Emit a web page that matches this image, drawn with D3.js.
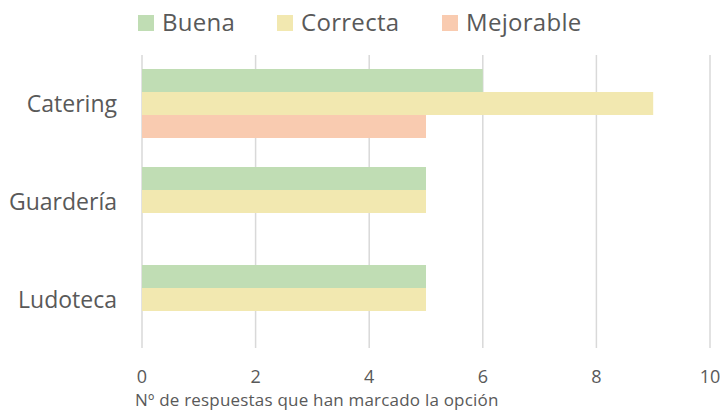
<!DOCTYPE html>
<html><head><meta charset="utf-8">
<script src="https://cdn.jsdelivr.net/npm/d3@7"></script>
<style>body{margin:0;background:#fff}svg{display:block}text{font-family:"Open Sans",sans-serif;fill:#595959}</style>
</head><body><svg id="c" width="722" height="413"></svg>
<script>
const categories = ["Catering", "Guardería", "Ludoteca"];
const seriesNames = ["Buena", "Correcta", "Mejorable"];
const buena = [6, 5, 5];
const correcta = [9, 5, 5];
const mejorable = [5, 0, 0];
const ticks = [0, 2, 4, 6, 8, 10];
const colors = ["#c0ddb4", "#f2e8b0", "#f9cbb0"];

const svg = d3.select("#c");
const x = d3.scaleLinear().domain([0, 10]).range([142, 710]);
const y = d3.scaleBand().domain(categories).range([54.5, 348.5]).paddingInner(0.296).paddingOuter(0.148);
const ys = d3.scaleBand().domain(seriesNames).range([0, y.bandwidth()]);
const values = [buena, correcta, mejorable];

// gridlines
svg.append("g").selectAll("line").data(ticks).join("line")
  .attr("x1", d => x(d)).attr("x2", d => x(d)).attr("y1", 55).attr("y2", 348)
  .attr("stroke", "#d9d9d9").attr("stroke-width", 1.5);

// bars
categories.forEach((c, i) => {
  seriesNames.forEach((s, j) => {
    const v = values[j][i];
    if (v > 0) svg.append("rect")
      .attr("x", x(0)).attr("y", y(c) + ys(s))
      .attr("width", x(v) - x(0)).attr("height", ys.bandwidth())
      .attr("fill", colors[j]);
  });
});

// axes labels
svg.append("g").selectAll("text").data(ticks).join("text")
  .attr("x", d => x(d)).attr("y", 383).attr("text-anchor", "middle")
  .attr("font-size", 18).text(d => d);
svg.append("g").selectAll("text").data(categories).join("text")
  .attr("x", 117).attr("y", d => y(d) + y.bandwidth() / 2 + 8).attr("text-anchor", "end")
  .attr("font-size", 23).text(d => d);
svg.append("text").attr("x", 135).attr("y", 406).attr("font-size", 17).attr("letter-spacing", 0.2)
  .text("Nº de respuestas que han marcado la opción");

// legend
const lx = [138, 277, 442];
const lg = svg.append("g").selectAll("g").data(seriesNames).join("g")
  .attr("transform", (d, i) => `translate(${lx[i]},15)`);
lg.append("rect").attr("width", 16).attr("height", 16).attr("fill", (d, i) => colors[i]);
lg.append("text").attr("x", 24).attr("y", 16).attr("font-size", 24).attr("letter-spacing", 0.3).text(d => d);
</script></body></html>
